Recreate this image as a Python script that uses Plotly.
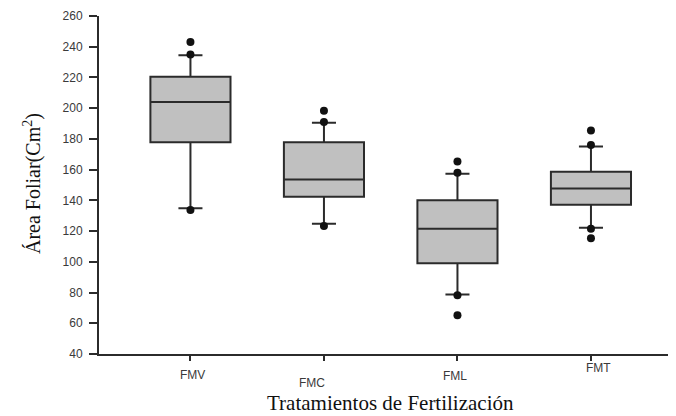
import plotly.graph_objects as go

categories = ["FMV", "FMC", "FML", "FMT"]
q1 = [177.8, 142.3, 99.0, 137.1]
median = [204.0, 153.6, 121.6, 147.7]
q3 = [220.5, 177.8, 140.0, 158.6]
lower_fence = [134.8, 124.8, 78.7, 122.2]
upper_fence = [234.5, 190.5, 157.3, 175.0]
outliers = {
    "FMV": [243.0, 235.0, 133.8],
    "FMC": [198.4, 191.0, 123.3],
    "FML": [165.3, 158.0, 78.2, 65.3],
    "FMT": [185.4, 176.0, 121.6, 115.3],
}
y_ticks = [40, 60, 80, 100, 120, 140, 160, 180, 200, 220, 240, 260]

# label offsets (px) to mimic staggered labels of the original
label_dx = [2, -12, -2, 8]
label_dy = [-21, -29, -22, -14]

xpos = list(range(len(categories)))
line_col = "#2b2b2b"

fig = go.Figure()
fig.add_trace(go.Box(
    x=xpos, q1=q1, median=median, q3=q3,
    lowerfence=lower_fence, upperfence=upper_fence,
    width=0.6, whiskerwidth=0.3,
    fillcolor="#c0c0c0",
    line=dict(color=line_col, width=2),
    boxpoints=False, showlegend=False, hoverinfo="skip",
))

ox, oy = [], []
for i, c in enumerate(categories):
    for v in outliers[c]:
        ox.append(xpos[i])
        oy.append(v)
fig.add_trace(go.Scatter(
    x=ox, y=oy, mode="markers",
    marker=dict(color="#111111", size=8, symbol="circle"),
    showlegend=False, hoverinfo="skip",
))

for i, c in enumerate(categories):
    fig.add_annotation(
        x=xpos[i], y=0, xref="x", yref="paper",
        text=c, showarrow=False,
        xshift=label_dx[i], yshift=label_dy[i],
        font=dict(family="Liberation Sans, Arial", size=12, color="#3a3a3a"),
        xanchor="center", yanchor="middle",
    )

fig.add_annotation(
    x=0.506, y=0, xref="paper", yref="paper",
    text="Tratamientos de Fertilización", showarrow=False,
    yshift=-49,
    font=dict(family="Liberation Serif, Times New Roman", size=21, color="#111111"),
    xanchor="center", yanchor="middle",
)

fig.add_annotation(
    x=0, y=0.503, xref="paper", yref="paper",
    text="Área Foliar(Cm<sup>2</sup>)", showarrow=False,
    xshift=-66, textangle=-90,
    font=dict(family="Liberation Serif, Times New Roman", size=20, color="#111111"),
    xanchor="center", yanchor="middle",
)

fig.update_layout(
    width=668, height=408,
    margin=dict(l=91, r=0, t=8, b=62),
    paper_bgcolor="white", plot_bgcolor="white",
    xaxis=dict(
        range=[-0.685, 3.637], tickvals=xpos, ticktext=categories,
        showticklabels=False, showgrid=False, zeroline=False,
        showline=True, linecolor=line_col, linewidth=2,
        ticks="outside", ticklen=5, tickwidth=2, tickcolor=line_col,
    ),
    yaxis=dict(
        range=[40, 260], tickvals=y_ticks, showgrid=False, zeroline=False,
        showline=True, linecolor=line_col, linewidth=2,
        ticks="outside", ticklen=8, tickwidth=1.5, tickcolor=line_col,
        ticklabelstandoff=4,
        tickfont=dict(family="Liberation Sans, Arial", size=12, color="#3a3a3a"),
    ),
)

fig.write_html("out.html")
